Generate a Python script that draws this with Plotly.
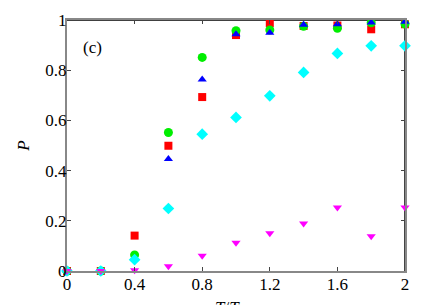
import plotly.graph_objects as go

x_vals = [0, 0.2, 0.4, 0.6, 0.8, 1.0, 1.2, 1.4, 1.6, 1.8, 2.0]
red_sq = [0, 0, 0.141, 0.499, 0.693, 0.94, 0.987, 0.976, 0.978, 0.963, 0.983]
green_circ = [0, 0, 0.064, 0.552, 0.851, 0.957, 0.96, 0.975, 0.967, 0.989, 0.984]
blue_up = [0, 0, 0.05, 0.446, 0.763, 0.943, 0.949, 0.981, 0.983, 0.99, 0.993]
cyan_dia = [0, 0, 0.045, 0.249, 0.545, 0.612, 0.698, 0.791, 0.867, 0.897, 0.897]
mag_down = [0, 0, 0.003, 0.019, 0.061, 0.113, 0.150, 0.189, 0.253, 0.138, 0.253]

xticks = [0, 0.4, 0.8, 1.2, 1.6, 2]
xticklabels = ["0", "0.4", "0.8", "1.2", "1.6", "2"]
yticks = [0, 0.2, 0.4, 0.6, 0.8, 1]
yticklabels = ["0", "0.2", "0.4", "0.6", "0.8", "1"]

series = [
    (red_sq, "square", "#ff0000", 8),
    (green_circ, "circle", "#00ee00", 9),
    (blue_up, "triangle-up", "#0000ff", 8),
    (cyan_dia, "diamond", "#00ffff", 9),
    (mag_down, "triangle-down", "#ff00ff", 8),
]

fig = go.Figure()
for ys, sym, col, sz in series:
    fig.add_trace(go.Scatter(
        x=x_vals, y=ys, mode="markers", cliponaxis=False,
        marker=dict(symbol=sym, color=col, size=sz, line=dict(width=0)),
        showlegend=False))

font = dict(family="Liberation Serif", size=17, color="black")

# page has an 8px body margin, so the figure is 8px smaller than the window
fig.update_layout(
    width=428, height=297,
    margin=dict(l=59, r=31, t=12, b=34),
    plot_bgcolor="white", paper_bgcolor="white",
    font=font,
    xaxis=dict(range=[0, 2], tickvals=xticks, ticktext=xticklabels,
               showgrid=False, zeroline=False, showline=True, linecolor="#888888",
               linewidth=2, ticks="inside", ticklen=4, tickcolor="#444444",
               mirror="allticks", automargin=False, tickfont=font,
               ticklabelstandoff=-3),
    yaxis=dict(range=[0, 1], tickvals=yticks, ticktext=yticklabels,
               showgrid=False, zeroline=False, showline=True, linecolor="#888888",
               linewidth=2, ticks="inside", ticklen=4, tickcolor="#444444",
               mirror="allticks", automargin=False, tickfont=font,
               ticklabelstandoff=-5,
               title=dict(text="<i>P</i>", standoff=11, font=font)),
    shapes=[
        dict(type="line", xref="paper", yref="paper", x0=0, x1=1, y0=1, y1=1,
             line=dict(color="black", width=1.5), layer="below"),
        dict(type="line", xref="paper", yref="paper", x0=1, x1=1, y0=0, y1=1,
             line=dict(color="#444444", width=2), layer="below"),
    ],
    annotations=[
        dict(text="(c)", xref="paper", yref="paper", x=0.04, y=0.892,
             xanchor="left", yanchor="middle", showarrow=False, font=font),
        dict(text="<i>T</i>/<i>T</i><sub>c</sub>", xref="paper", yref="paper",
             x=0.48, y=-0.1, xanchor="center", yanchor="top", showarrow=False,
             font=font),
    ],
)

fig.write_html("out.html")
